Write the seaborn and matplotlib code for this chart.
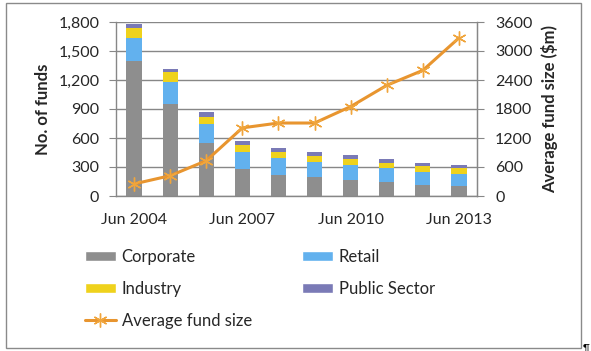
import numpy as np
import pandas as pd
import matplotlib
matplotlib.use("Agg")
import matplotlib.pyplot as plt
from matplotlib.patches import Patch, Rectangle
from matplotlib.lines import Line2D
import seaborn as sns

# Data
periods = ["Jun 2004", "Jun 2005", "Jun 2006", "Jun 2007", "Jun 2008",
           "Jun 2009", "Jun 2010", "Jun 2011", "Jun 2012", "Jun 2013"]
corporate = [1395, 953, 546, 280, 218, 193, 166, 141, 117, 99]
retail = [241, 231, 203, 176, 179, 159, 158, 145, 135, 129]
industry = [104, 94, 70, 72, 59, 66, 63, 59, 59, 58]
public_sector = [42, 38, 51, 42, 44, 41, 41, 42, 34, 38]
avg_fund_size = [250, 420, 730, 1410, 1510, 1510, 1850, 2290, 2600, 3270]

funds_df = pd.DataFrame({
    "period": periods,
    "Corporate": corporate,
    "Retail": retail,
    "Industry": industry,
    "Public Sector": public_sector,
    "avg": avg_fund_size,
})
funds_df["pos"] = np.arange(len(funds_df))

# cumulative tops for the stacked look
stack_order = ["Corporate", "Retail", "Industry", "Public Sector"]
colors = {"Corporate": "#8e8e8e", "Retail": "#62b1ee",
          "Industry": "#efd21c", "Public Sector": "#7a7ab6"}
cum_df = funds_df[stack_order].cumsum(axis=1)

sns.set_style("white")
plt.rcParams["font.family"] = ["Lato", "DejaVu Sans"]
plt.rcParams["font.size"] = 11.5

fig = plt.figure(figsize=(5.91, 3.51), dpi=100)
ax = fig.add_axes([116 / 591, 1 - 196 / 351, 361 / 591, 174 / 351])

grid_c = "#878787"
for name in reversed(stack_order):
    sns.barplot(x=funds_df["pos"], y=cum_df[name], color=colors[name],
                width=0.42, saturation=1, ax=ax, order=list(range(10)),
                edgecolor="none", linewidth=0)

ax.set_xlim(-0.5, 9.5)
ax.set_ylim(0, 1800)
ax.set_yticks(np.arange(0, 1801, 300))
ax.set_yticklabels([f"{v:,}" for v in range(0, 1801, 300)])
ax.yaxis.grid(True, color=grid_c, linewidth=1)
ax.set_axisbelow(True)
ax.set_xticks([0, 3, 6, 9])
ax.set_xticklabels([periods[i] for i in [0, 3, 6, 9]])
ax.set_xticks(np.arange(-0.5, 10, 1), minor=True)
ax.tick_params(axis="x", which="major", length=0, pad=12)
ax.tick_params(axis="x", which="minor", length=4, color=grid_c, direction="out")
ax.tick_params(axis="y", length=5, color=grid_c, direction="out", pad=7, left=True)
ax.set_xlabel("")
ax.set_ylabel("No. of funds", fontweight="bold", fontsize=12, labelpad=5)
for side in ["left", "bottom", "right"]:
    ax.spines[side].set_color(grid_c)
    ax.spines[side].set_linewidth(1)
ax.spines["top"].set_visible(False)

# Average fund size on the secondary axis
ax2 = ax.twinx()
line_c = "#e8952f"
sns.lineplot(x=funds_df["pos"], y=funds_df["avg"], ax=ax2, color=line_c,
             linewidth=2.2, marker=(6, 2, 0), markersize=10,
             markeredgecolor="#f0a53c", markeredgewidth=1)
ax2.set_ylim(0, 3600)
ax2.set_yticks(np.arange(0, 3601, 600))
ax2.tick_params(axis="y", length=5, color=grid_c, direction="out", pad=8, right=True)
ax2.set_ylabel("Average fund size ($m)", fontweight="bold", fontsize=12, labelpad=6)
ax2.set_xlabel("")
for side in ["left", "bottom", "top"]:
    ax2.spines[side].set_visible(False)
ax2.spines["right"].set_color(grid_c)
ax2.set_xlim(-0.5, 9.5)

# Legend below the plot
handles = [
    Patch(facecolor=colors["Corporate"], label="Corporate"),
    Patch(facecolor=colors["Industry"], label="Industry"),
    Line2D([0], [0], color=line_c, linewidth=2.2, marker=(6, 2, 0), markersize=10,
           markeredgecolor="#f0a53c", markeredgewidth=1, label="Average fund size"),
    Patch(facecolor=colors["Retail"], label="Retail"),
    Patch(facecolor=colors["Public Sector"], label="Public Sector"),
]
fig.legend(handles=handles, ncol=2, loc="upper left",
           bbox_to_anchor=(85 / 591, 1 - 249 / 351), frameon=False,
           handlelength=1.85, handleheight=0.5, handletextpad=0.35,
           labelspacing=0.95, columnspacing=3.0, borderpad=0, borderaxespad=0,
           fontsize=12)

# outer frame and paragraph mark
fig.patches.append(Rectangle((6 / 591, 1 - 348 / 351), 575 / 591, 345 / 351,
                             transform=fig.transFigure, fill=False,
                             edgecolor="#8a8a8a", linewidth=1))
fig.text(583 / 591, 1 - 350 / 351, "\u00b6", fontsize=7, color="black")

fig.savefig("out.png", dpi=100)
